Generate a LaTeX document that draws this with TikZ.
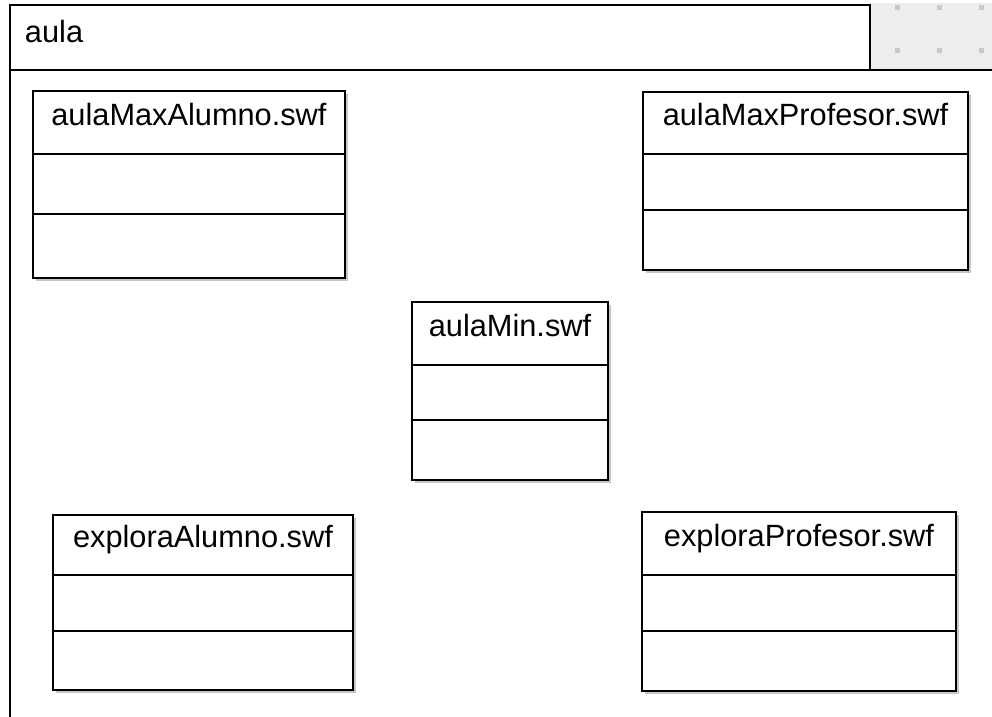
\documentclass[tikz,border=0pt]{standalone}
\usepackage{fontspec}
\setmainfont{Liberation Sans}
\usepackage{tikz}
\usetikzlibrary{positioning, shadows}
\newcommand{\classfont}{\fontsize{17.5}{21}\selectfont}
\definecolor{PkgGray}{HTML}{EDEDED}
\definecolor{DotGray}{HTML}{C8C8C8}
\tikzset{
  pkgline/.style={draw=black, line width=1.35pt},
  pkgtab/.style={rectangle, draw=black, fill=white, line width=1.35pt, anchor=north west, outer sep=0pt, minimum height=1.3cm, text width=16.6cm, align=left, inner xsep=0.3cm, inner ysep=0pt, text height=0.4cm, text depth=0.18cm, font=\classfont},
  classhead/.style={rectangle, draw=black, fill=white, line width=1.35pt, anchor=north west, outer sep=0pt, inner sep=0pt, text height=0.4cm, text depth=0.28cm, font=\classfont, drop shadow={shadow xshift=0.06cm, shadow yshift=-0.06cm, opacity=0.45}},
  classpart/.style={rectangle, draw=black, fill=white, line width=1.35pt, outer sep=0pt, inner sep=0pt, drop shadow={shadow xshift=0.06cm, shadow yshift=-0.06cm, opacity=0.45}}
}

\begin{document}
\begin{tikzpicture}[x=0.02cm, y=-0.02cm]
  \useasboundingbox (0,0) rectangle (992,717);
  % package tab and frame
  \fill[PkgGray] (870,3) rectangle (992,70);
  \foreach \x in {897,939,981}
    \foreach \y in {7,50}
      \fill[DotGray] (\x-2.5,\y-2.5) rectangle (\x+2.5,\y+2.5);
  \node[pkgtab] (tab) at (10,5) {aula};
  \draw[pkgline] (tab.south west |- 0,717) -- (tab.south west) -- (tab.south west -| 992,0);

  % aulaMaxAlumno
  \node[classhead, minimum width=6.24cm, minimum height=1.26cm] (amaHead) at (33,91) {aulaMaxAlumno.swf};
  \node[classpart, minimum width=6.24cm, minimum height=1.2cm, below=0pt of amaHead] (amaAttr) {};
  \node[classpart, minimum width=6.24cm, minimum height=1.28cm, below=0pt of amaAttr] (amaOps) {};

  % aulaMaxProfesor
  \node[classhead, minimum width=6.5cm, minimum height=1.24cm] (ampHead) at (643,92) {aulaMaxProfesor.swf};
  \node[classpart, minimum width=6.5cm, minimum height=1.12cm, below=0pt of ampHead] (ampAttr) {};
  \node[classpart, minimum width=6.5cm, minimum height=1.2cm, below=0pt of ampAttr] (ampOps) {};

  % aulaMin
  \node[classhead, minimum width=3.92cm, minimum height=1.26cm] (amHead) at (412,302) {aulaMin.swf};
  \node[classpart, minimum width=3.92cm, minimum height=1.1cm, below=0pt of amHead] (amAttr) {};
  \node[classpart, minimum width=3.92cm, minimum height=1.2cm, below=0pt of amAttr] (amOps) {};

  % exploraAlumno
  \node[classhead, minimum width=6cm, minimum height=1.2cm] (eaHead) at (53,515) {exploraAlumno.swf};
  \node[classpart, minimum width=6cm, minimum height=1.12cm, below=0pt of eaHead] (eaAttr) {};
  \node[classpart, minimum width=6cm, minimum height=1.18cm, below=0pt of eaAttr] (eaOps) {};

  % exploraProfesor
  \node[classhead, minimum width=6.28cm, minimum height=1.26cm] (epHead) at (642,512) {exploraProfesor.swf};
  \node[classpart, minimum width=6.28cm, minimum height=1.12cm, below=0pt of epHead] (epAttr) {};
  \node[classpart, minimum width=6.28cm, minimum height=1.2cm, below=0pt of epAttr] (epOps) {};
\end{tikzpicture}
\end{document}
